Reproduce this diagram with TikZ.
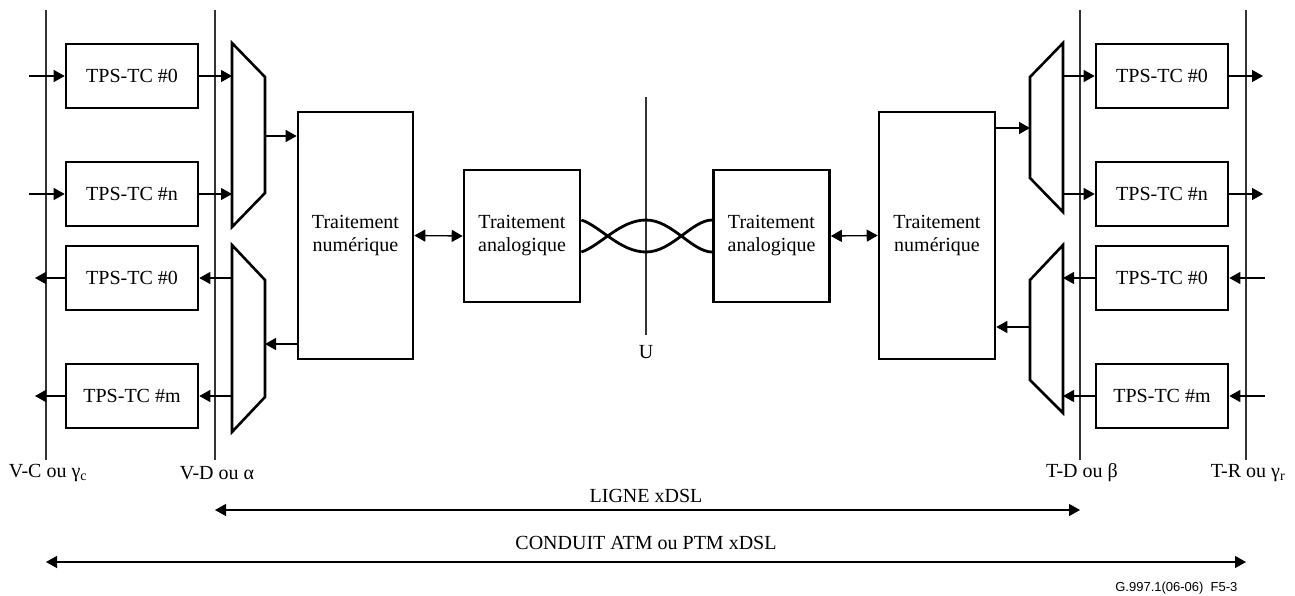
\documentclass[tikz,border=0pt]{standalone}
\usepackage{fontspec}
\setmainfont{Liberation Serif}
\newfontfamily\labelsans{Liberation Sans}
\usetikzlibrary{arrows.meta}
\begin{document}
\begin{tikzpicture}[x=1pt,y=-1pt,
  font=\fontsize{20}{23}\selectfont,
  tps/.style={draw,line width=2.6pt,minimum width=132pt,minimum height=64pt,inner sep=0pt},
  proc/.style={draw,line width=2.6pt,inner sep=0pt,align=center},
  mux/.style={draw,line width=2.6pt,line join=miter},
  iface/.style={line width=1.1pt,black!80},
  conn/.style={line width=1.3pt,-{Triangle[length=11pt,width=12pt]}},
  dconn/.style={line width=1.3pt,{Triangle[length=11pt,width=12pt]}-{Triangle[length=11pt,width=12pt]}},
  pair/.style={line width=2.8pt}]
\useasboundingbox (0,0) rectangle (1295,595);

% interface lines
\draw[iface] (46,10) coordinate (vc1) -- (46,460) coordinate (vc2);
\draw[iface] (215,10) coordinate (vd1) -- (215,460) coordinate (vd2);
\draw[iface] (1080,10) coordinate (td1) -- (1080,460) coordinate (td2);
\draw[iface] (1246,10) coordinate (tr1) -- (1246,460) coordinate (tr2);
\draw[iface] (646,97) coordinate (u1) -- (646,335) coordinate (u2);

% left TPS-TC boxes
\node[tps] (l1) at (132,76) {TPS-TC \#0};
\node[tps] (l2) at (132,194) {TPS-TC \#n};
\node[tps] (l3) at (132,278) {TPS-TC \#0};
\node[tps] (l4) at (132,396) {TPS-TC \#m};
% right TPS-TC boxes
\node[tps] (r1) at (1162,76) {TPS-TC \#0};
\node[tps] (r2) at (1162,194) {TPS-TC \#n};
\node[tps] (r3) at (1162,278) {TPS-TC \#0};
\node[tps] (r4) at (1162,396) {TPS-TC \#m};

% processing boxes
\node[proc,minimum width=115pt,minimum height=247pt] (n1) at (355.5,235.5) {Traitement\\num\'erique};
\node[proc,minimum width=116pt,minimum height=247pt] (n2) at (937,235.5) {Traitement\\num\'erique};
\node[proc,minimum width=116pt,minimum height=132pt] (a1) at (522,236) {Traitement\\analogique};
\node[proc,minimum width=116pt,minimum height=132pt] (a2) at (771.5,236) {Traitement\\analogique};

% multiplexers
\draw[mux] (232,43) coordinate (m1a) -- (265,77) -- (265,193) -- (232,227) -- cycle;
\draw[mux] (232,245) coordinate (m2a) -- (265,280) -- (265,397) -- (232,432) -- cycle;
\draw[mux] (1063,43) coordinate (m3a) -- (1030,77) -- (1030,178) -- (1063,212) -- cycle;
\draw[mux] (1063,245) coordinate (m4a) -- (1030,280) -- (1030,380) -- (1063,413) -- cycle;
\coordinate (m1o) at (265,136);
\coordinate (m2i) at (265,344);
\coordinate (m3i) at (1030,128);
\coordinate (m4o) at (1030,327);

% left arrows
\coordinate (li1) at (29,76);
\coordinate (li2) at (29,194);
\coordinate (lo3) at (35,278);
\coordinate (lo4) at (35,396);
\draw[conn] (li1) -- (l1.west);
\draw[conn] (li2) -- (l2.west);
\draw[conn] (l3.west) -- (lo3);
\draw[conn] (l4.west) -- (lo4);
\draw[conn] (l1.east) -- (l1.east -| m1a);
\draw[conn] (l2.east) -- (l2.east -| m1a);
\draw[conn] (l3.east -| m2a) -- (l3.east);
\draw[conn] (l4.east -| m2a) -- (l4.east);
\draw[conn] (m1o) -- (m1o -| n1.west);
\draw[conn] (m2i -| n1.west) -- (m2i);

% right arrows
\coordinate (ro1) at (1263,76);
\coordinate (ro2) at (1263,194);
\coordinate (ri3) at (1265,278);
\coordinate (ri4) at (1265,396);
\draw[conn] (r1.east) -- (ro1);
\draw[conn] (r2.east) -- (ro2);
\draw[conn] (ri3) -- (r3.east);
\draw[conn] (ri4) -- (r4.east);
\draw[conn] (r1.west -| m3a) -- (r1.west);
\draw[conn] (r2.west -| m3a) -- (r2.west);
\draw[conn] (r3.west) -- (r3.west -| m4a);
\draw[conn] (r4.west) -- (r4.west -| m4a);
\draw[conn] (m3i -| n2.east) -- (m3i);
\draw[conn] (m4o) -- (m4o -| n2.east);

% digital-analog links
\draw[dconn] (n1.east) -- (a1.west);
\draw[dconn] (a2.east) -- (n2.west);

% twisted pair
\coordinate (p1) at (a1.east |- 0,220);
\coordinate (p2) at (a1.east |- 0,252);
\coordinate (q1) at (a2.west |- 0,220);
\coordinate (q2) at (a2.west |- 0,252);
\draw[pair] (p1) .. controls (600,226) and (620,252) .. (646,252) .. controls (672,252) and (692,220) .. (q1);
\draw[pair] (p2) .. controls (600,246) and (620,220) .. (646,220) .. controls (672,220) and (692,252) .. (q2);

% labels
\node (ul) at (646,352) {U};
\node (lvc) at (48,473) {V-C ou γ\textsubscript{c}};
\node (lvd) at (217,473) {V-D ou α};
\node (ltd) at (1082,473) {T-D ou β};
\node (ltr) at (1248,473) {T-R ou γ\textsubscript{r}};

% extent arrows
\coordinate (la) at (215,510);
\coordinate (lb) at (1080,510);
\coordinate (ca) at (46,562);
\coordinate (cb) at (1246,562);
\draw[dconn] (la) -- (lb);
\draw[dconn] (ca) -- (cb);
\node (ligne) at (646,496) {LIGNE xDSL};
\node (conduit) at (646,543) {CONDUIT ATM ou PTM xDSL};
\node[anchor=east,font=\labelsans\fontsize{13}{15}\selectfont] (ref) at (1241,588) {G.997.1(06-06)\ \ F5-3};
\end{tikzpicture}
\end{document}
